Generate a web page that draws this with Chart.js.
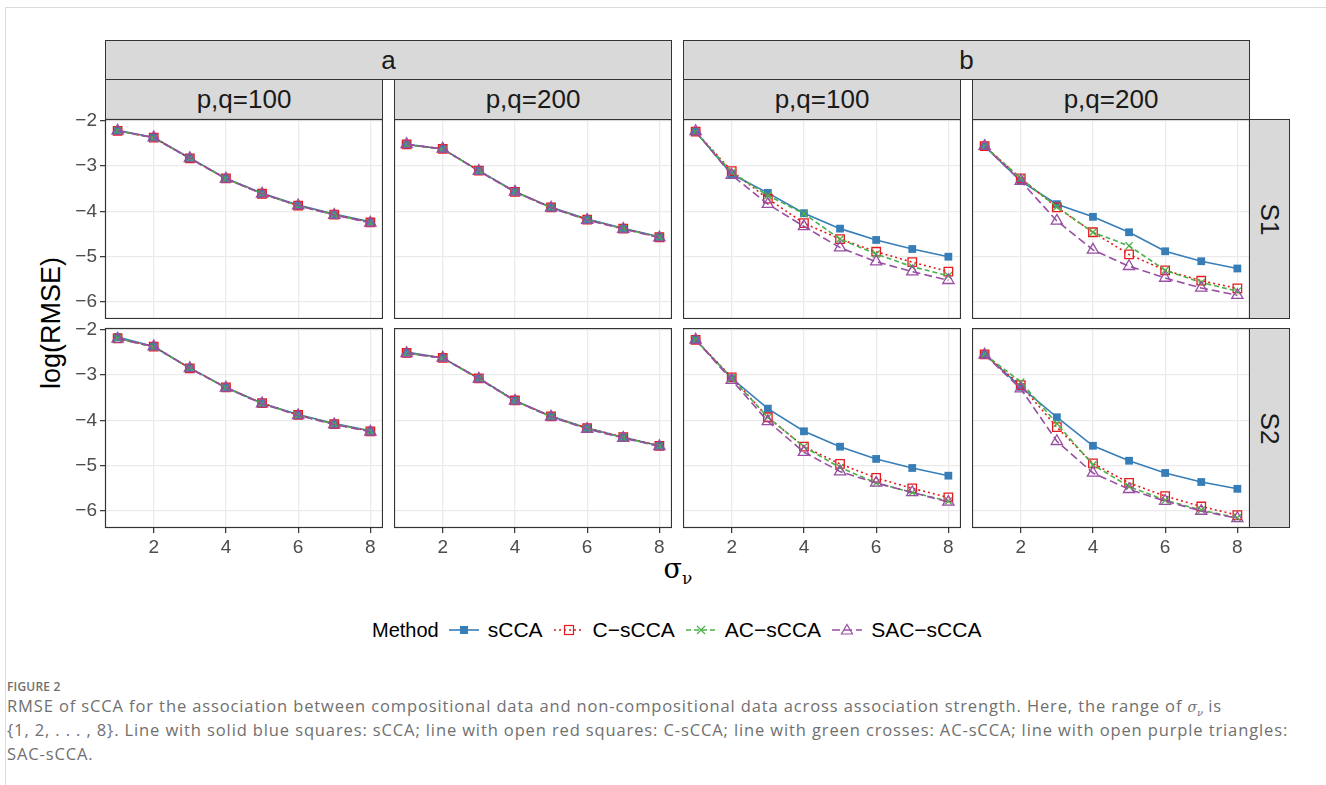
<!DOCTYPE html>
<html>
<head>
<meta charset="utf-8">
<script src="https://cdn.jsdelivr.net/npm/chart.js@4.4.1/dist/chart.umd.min.js"></script>
<style>
  body { margin: 0; background: #fff; font-family: "Liberation Sans", Arial, sans-serif; }
  #page { position: relative; width: 1326px; height: 785px; overflow: hidden; }
  #frame { position: absolute; left: 5px; top: 7px; right: 0; bottom: 0; border-top: 1px solid #dcdcdc; border-left: 1px solid #dcdcdc; }
  .strip { position: absolute; box-sizing: border-box; background: #d9d9d9; border: 1px solid #333;
           display: flex; align-items: center; justify-content: center; color: #1a1a1a; font-size: 26px; }
  .strip.side span { transform: rotate(90deg); display: inline-block; }
  canvas { position: absolute; }
  #ytitle { position: absolute; left: 51px; top: 323px; transform: translate(-50%, -50%) rotate(-90deg); font-size: 27px; color: #000; white-space: nowrap; }
  #xtitle { position: absolute; left: 678px; top: 570px; transform: translate(-50%, -50%); font-family: "DejaVu Serif", serif; font-size: 27px; color: #000; }
  #xtitle sub { font-size: 17px; vertical-align: -6px; }
  #legend { position: absolute; left: 372px; top: 617px; height: 26px; display: flex; align-items: center; color: #000; white-space: nowrap; }
  #legend .title { font-size: 20px; margin-right: 10px; }
  #legend .lab { font-size: 21px; margin-left: 9px; margin-right: 11px; }
  #cap { position: absolute; left: 7px; top: 678px; color: #707070; font-family: "Open Sans", "Liberation Sans", Arial, sans-serif; }
  #cap .fig { font-size: 12px; font-weight: 600; letter-spacing: 0.2px; height: 16px; }
  #cap .txt { font-size: 16.5px; line-height: 24px; white-space: nowrap; letter-spacing: 0.88px; }
  #cap .m { font-family: "DejaVu Serif", serif; font-style: italic; font-size: 14px; line-height: 0; letter-spacing: 0; }
  #cap .m sub { font-size: 10px; line-height: 0; }
</style>
</head>
<body>
<div id="page">
  <div id="frame"></div>
  <div id="ytitle">log(RMSE)</div>
  <div id="xtitle">σ<sub>ν</sub></div>
  <div id="legend"></div>
  <div id="cap">
    <div class="fig">FIGURE 2</div>
    <div class="txt">RMSE of sCCA for the association between compositional data and non-compositional data across association strength. Here, the range of <span class="m">σ<sub>ν</sub></span> is<br>{1, 2, . . . , 8}. Line with solid blue squares: sCCA; line with open red squares: C-sCCA; line with green crosses: AC-sCCA; line with open purple triangles:<br>SAC-sCCA.</div>
  </div>
</div>
<script>
// sigma_nu values and tick labels
const sigmaNu = [1, 2, 3, 4, 5, 6, 7, 8];
const xTicks = [2, 4, 6, 8];
const xTickLabels = ['2', '4', '6', '8'];
const yTicks = [-2, -3, -4, -5, -6];
const yTickLabels = ['\u22122', '\u22123', '\u22124', '\u22125', '\u22126'];

const methods = ['sCCA', 'C\u2212sCCA', 'AC\u2212sCCA', 'SAC\u2212sCCA'];
const groupTop = ['a', 'b'];
const groupSize = ['p,q=100', 'p,q=200'];
const scenarios = ['S1', 'S2'];

// log(RMSE), panel a, S1
const sCCA_a100_S1 = [-2.21, -2.37, -2.82, -3.27, -3.60, -3.86, -4.06, -4.23];
const CsCCA_a100_S1 = [-2.22, -2.37, -2.83, -3.27, -3.61, -3.87, -4.07, -4.24];
const ACsCCA_a100_S1 = [-2.22, -2.38, -2.83, -3.28, -3.61, -3.88, -4.07, -4.25];
const SACsCCA_a100_S1 = [-2.22, -2.37, -2.83, -3.28, -3.61, -3.87, -4.08, -4.25];
const sCCA_a200_S1 = [-2.52, -2.62, -3.10, -3.56, -3.91, -4.17, -4.37, -4.56];
const CsCCA_a200_S1 = [-2.52, -2.62, -3.10, -3.57, -3.91, -4.18, -4.38, -4.57];
const ACsCCA_a200_S1 = [-2.53, -2.63, -3.10, -3.57, -3.92, -4.18, -4.38, -4.57];
const SACsCCA_a200_S1 = [-2.52, -2.62, -3.11, -3.57, -3.92, -4.19, -4.39, -4.58];
// panel a, S2
const sCCA_a100_S2 = [-2.16, -2.37, -2.84, -3.27, -3.62, -3.87, -4.07, -4.23];
const CsCCA_a100_S2 = [-2.19, -2.37, -2.85, -3.27, -3.62, -3.88, -4.08, -4.24];
const ACsCCA_a100_S2 = [-2.19, -2.38, -2.85, -3.28, -3.63, -3.88, -4.08, -4.24];
const SACsCCA_a100_S2 = [-2.20, -2.37, -2.85, -3.28, -3.63, -3.89, -4.09, -4.25];
const sCCA_a200_S2 = [-2.49, -2.62, -3.07, -3.56, -3.91, -4.17, -4.37, -4.56];
const CsCCA_a200_S2 = [-2.51, -2.62, -3.07, -3.56, -3.91, -4.17, -4.37, -4.56];
const ACsCCA_a200_S2 = [-2.51, -2.63, -3.08, -3.57, -3.92, -4.18, -4.38, -4.57];
const SACsCCA_a200_S2 = [-2.52, -2.62, -3.08, -3.57, -3.92, -4.19, -4.39, -4.57];
// panel b, S1
const sCCA_b100_S1 = [-2.24, -3.18, -3.59, -4.04, -4.38, -4.63, -4.83, -5.00];
const CsCCA_b100_S1 = [-2.24, -3.11, -3.72, -4.26, -4.61, -4.89, -5.12, -5.33];
const ACsCCA_b100_S1 = [-2.24, -3.14, -3.65, -4.05, -4.61, -4.94, -5.22, -5.42];
const SACsCCA_b100_S1 = [-2.23, -3.20, -3.84, -4.33, -4.80, -5.11, -5.33, -5.52];
const sCCA_b200_S1 = [-2.56, -3.33, -3.84, -4.12, -4.46, -4.88, -5.10, -5.26];
const CsCCA_b200_S1 = [-2.56, -3.27, -3.91, -4.46, -4.95, -5.30, -5.53, -5.70];
const ACsCCA_b200_S1 = [-2.56, -3.27, -3.90, -4.46, -4.76, -5.30, -5.57, -5.76];
const SACsCCA_b200_S1 = [-2.56, -3.33, -4.21, -4.85, -5.21, -5.47, -5.69, -5.85];
// panel b, S2
const sCCA_b100_S2 = [-2.22, -3.07, -3.74, -4.24, -4.58, -4.85, -5.05, -5.22];
const CsCCA_b100_S2 = [-2.22, -3.05, -3.93, -4.58, -4.96, -5.27, -5.50, -5.70];
const ACsCCA_b100_S2 = [-2.22, -3.07, -3.93, -4.58, -5.04, -5.38, -5.59, -5.78];
const SACsCCA_b100_S2 = [-2.22, -3.11, -4.02, -4.70, -5.13, -5.38, -5.59, -5.80];
const sCCA_b200_S2 = [-2.54, -3.26, -3.93, -4.56, -4.89, -5.16, -5.36, -5.51];
const CsCCA_b200_S2 = [-2.54, -3.22, -4.15, -4.95, -5.38, -5.67, -5.90, -6.09];
const ACsCCA_b200_S2 = [-2.54, -3.15, -4.07, -4.98, -5.46, -5.76, -5.98, -6.15];
const SACsCCA_b200_S2 = [-2.55, -3.30, -4.46, -5.16, -5.52, -5.78, -6.00, -6.16];

// panels in order row (S1, S2) x col (a100, a200, b100, b200)
const panels = [
  [[sCCA_a100_S1, CsCCA_a100_S1, ACsCCA_a100_S1, SACsCCA_a100_S1],
   [sCCA_a200_S1, CsCCA_a200_S1, ACsCCA_a200_S1, SACsCCA_a200_S1],
   [sCCA_b100_S1, CsCCA_b100_S1, ACsCCA_b100_S1, SACsCCA_b100_S1],
   [sCCA_b200_S1, CsCCA_b200_S1, ACsCCA_b200_S1, SACsCCA_b200_S1]],
  [[sCCA_a100_S2, CsCCA_a100_S2, ACsCCA_a100_S2, SACsCCA_a100_S2],
   [sCCA_a200_S2, CsCCA_a200_S2, ACsCCA_a200_S2, SACsCCA_a200_S2],
   [sCCA_b100_S2, CsCCA_b100_S2, ACsCCA_b100_S2, SACsCCA_b100_S2],
   [sCCA_b200_S2, CsCCA_b200_S2, ACsCCA_b200_S2, SACsCCA_b200_S2]]
];

// styles
const colors = ['#377EB8', '#E41A1C', '#4DAF4A', '#984EA3'];
const dashes = [[], [2, 3], [5, 3], [8, 4]];
const pStyles = ['rect', 'rect', 'crossRot', 'triangle'];
const pFill = [true, false, false, false];
const pRadius = [5.5, 6, 5, 6.5];

const colX = [105, 394, 683, 972];
const panelW = 278;
const rowY = [119, 328];
const panelH = 199;
const yAxisW = 60, xAxisH = 30, topPad = 14;
const tickFont = { family: '"Liberation Sans", Arial, sans-serif', size: 19 };

const page = document.getElementById('page');

function addStrip(cls, left, top, w, h, text) {
  const d = document.createElement('div');
  d.className = 'strip ' + cls;
  d.style.left = left + 'px'; d.style.top = top + 'px';
  d.style.width = w + 'px'; d.style.height = h + 'px';
  d.innerHTML = '<span>' + text + '</span>';
  page.appendChild(d);
}
addStrip('', colX[0], 40, colX[1] + panelW - colX[0], 40, groupTop[0]);
addStrip('', colX[2], 40, colX[3] + panelW - colX[2], 40, groupTop[1]);
for (let c = 0; c < 4; c++) addStrip('', colX[c], 79, panelW, 41, groupSize[c % 2]);
for (let r = 0; r < 2; r++) addStrip('side', colX[3] + panelW - 1, rowY[r], 41, panelH + 1, scenarios[r]);

const framePlugin = {
  id: 'frame',
  afterDraw(chart) {
    const a = chart.chartArea, ctx = chart.ctx;
    ctx.save();
    ctx.strokeStyle = '#333';
    ctx.lineWidth = 1.2;
    ctx.strokeRect(a.left + 0.5, a.top + 0.5, a.right - a.left - 1, a.bottom - a.top - 1);
    ctx.restore();
  }
};

function makePanel(r, c) {
  const left = c === 0, bottom = r === 1;
  const pad = left ? topPad : 0;
  const cv = document.createElement('canvas');
  const w = panelW + (left ? yAxisW : 0);
  const h = panelH + 1 + pad + (bottom ? xAxisH : 0);
  cv.width = w; cv.height = h;
  cv.style.left = (colX[c] - (left ? yAxisW : 0)) + 'px';
  cv.style.top = (rowY[r] - pad) + 'px';
  cv.style.width = w + 'px'; cv.style.height = h + 'px';
  page.appendChild(cv);

  const datasets = panels[r][c].map((vals, i) => ({
    label: methods[i],
    data: vals.map((v, k) => ({ x: sigmaNu[k], y: v })),
    borderColor: colors[i],
    backgroundColor: pFill[i] ? colors[i] : 'rgba(0,0,0,0)',
    borderWidth: 1.6,
    borderDash: dashes[i],
    pointStyle: pStyles[i],
    pointRadius: pRadius[i],
    pointBorderWidth: pFill[i] ? 0 : 1.3,
    pointBorderColor: colors[i],
    pointBackgroundColor: pFill[i] ? colors[i] : 'rgba(0,0,0,0)',
    tension: 0,
    clip: false,
    order: 3 - i
  }));

  new Chart(cv, {
    type: 'line',
    data: { datasets },
    options: {
      responsive: false,
      animation: false,
      devicePixelRatio: 1,
      layout: { padding: { top: pad, left: 0, right: 0, bottom: 0 }, autoPadding: false },
      plugins: { legend: { display: false }, tooltip: { enabled: false } },
      scales: {
        x: {
          type: 'linear', min: 0.65, max: 8.35,
          afterBuildTicks: s => { s.ticks = xTicks.map(v => ({ value: v })); },
          afterFit: s => { s.height = bottom ? xAxisH : 0; s.paddingLeft = 0; s.paddingRight = 0; },
          border: { display: false },
          grid: { color: '#ebebeb', lineWidth: 1.3, drawTicks: bottom, tickLength: 5, tickColor: '#333', tickWidth: 1.2 },
          ticks: { display: bottom, font: tickFont, color: '#4d4d4d', padding: 3, maxRotation: 0,
                   callback: v => xTickLabels[xTicks.indexOf(v)] }
        },
        y: {
          type: 'linear', min: -6.375, max: -1.96,
          afterBuildTicks: s => { s.ticks = yTicks.map(v => ({ value: v })); },
          afterFit: s => { s.width = left ? yAxisW : 0; s.paddingTop = 0; s.paddingBottom = 0; },
          border: { display: false },
          grid: { color: '#ebebeb', lineWidth: 1.3, drawTicks: left, tickLength: 5, tickColor: '#333', tickWidth: 1.2 },
          ticks: { display: left, font: tickFont, color: '#4d4d4d', padding: 3,
                   callback: v => yTickLabels[yTicks.indexOf(v)] }
        }
      }
    },
    plugins: [framePlugin]
  });
}

for (let r = 0; r < 2; r++) for (let c = 0; c < 4; c++) makePanel(r, c);

// legend keys
const legend = document.getElementById('legend');
let html = '<span class="title">Method</span>';
methods.forEach((m, i) => {
  const col = colors[i];
  const dash = dashes[i].length ? ' stroke-dasharray="' + dashes[i].join(',') + '"' : '';
  let mk = '';
  if (i === 0) mk = '<rect x="11" y="9" width="8" height="8" fill="' + col + '"/>';
  if (i === 1) mk = '<rect x="10.5" y="8.5" width="9" height="9" fill="none" stroke="' + col + '" stroke-width="1.2"/>';
  if (i === 2) mk = '<path d="M11 9 L19 17 M19 9 L11 17" stroke="' + col + '" stroke-width="1.2"/>';
  if (i === 3) mk = '<path d="M15 7.5 L20.5 17 L9.5 17 Z" fill="none" stroke="' + col + '" stroke-width="1.2"/>';
  html += '<svg width="30" height="26"><line x1="0" y1="13" x2="30" y2="13" stroke="' + col + '" stroke-width="1.6"' + dash + '/>' + mk + '</svg>';
  html += '<span class="lab">' + m + '</span>';
});
legend.innerHTML = html;
</script>
</body>
</html>
